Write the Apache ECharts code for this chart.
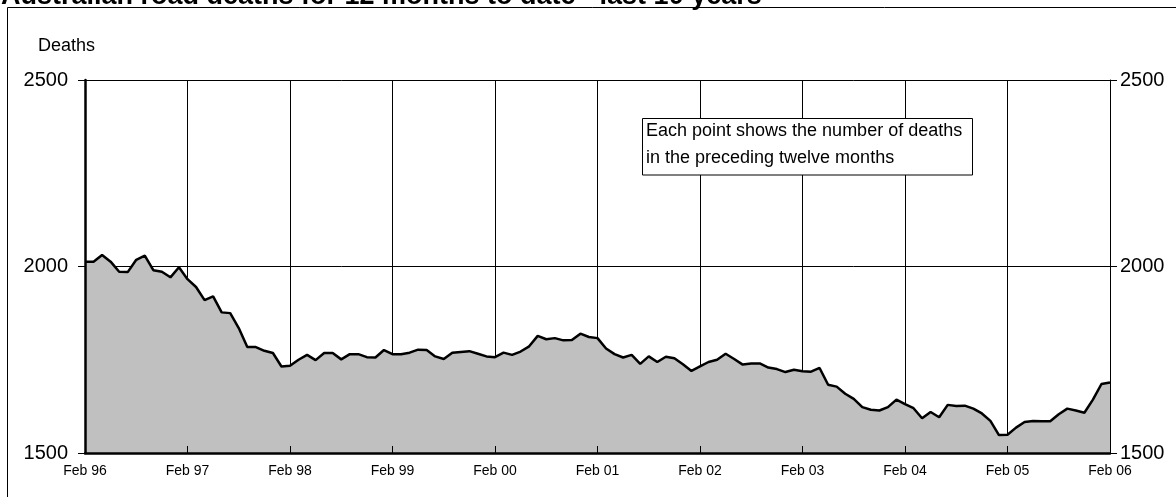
<!DOCTYPE html>
<html>
<head>
<meta charset="utf-8">
<script src="https://cdn.jsdelivr.net/npm/echarts@6/dist/echarts.min.js"></script>
<style>
html,body{margin:0;padding:0;background:#fff;}
#chart{width:1176px;height:497px;}
</style>
</head>
<body>
<div id="chart"></div>
<script>
const monthNames = ['Jan','Feb','Mar','Apr','May','Jun','Jul','Aug','Sep','Oct','Nov','Dec'];
const startYear = 1996;
const startMonth = 1; // Feb
const yTicks = [1500, 2000, 2500];
const deaths = [
  2013, 2013, 2031, 2013, 1986, 1985, 2018, 2029, 1990, 1986, 1971, 1998,
  1966, 1945, 1910, 1920, 1877, 1875, 1835, 1784, 1784, 1774, 1768, 1732,
  1734, 1750, 1763, 1749, 1768, 1768, 1751, 1765, 1765, 1757, 1756, 1776,
  1765, 1765, 1769, 1777, 1776, 1759, 1752, 1769, 1771, 1773, 1766, 1759,
  1757, 1769, 1763, 1772, 1786, 1814, 1805, 1808, 1802, 1803, 1820, 1811,
  1808, 1780, 1765, 1756, 1763, 1739, 1759, 1744, 1758, 1754, 1738, 1720,
  1732, 1744, 1750, 1766, 1752, 1737, 1740, 1740, 1729, 1725, 1717, 1723,
  1719, 1718, 1728, 1683, 1678, 1659, 1645, 1623, 1616, 1614, 1623, 1643,
  1631, 1620, 1593, 1610, 1596, 1629, 1626, 1627, 1619, 1606, 1586, 1548,
  1549, 1568, 1583, 1586, 1585, 1585, 1604, 1619, 1614, 1608, 1643, 1685,
  1689
];
const categories = deaths.map((v, i) => {
  const m = (startMonth + i) % 12;
  const y = startYear + Math.floor((startMonth + i) / 12);
  return monthNames[m] + ' ' + String(y % 100).padStart(2, '0');
});
const titleText = 'Australian road deaths for 12 months to date - last 10 years';
const yAxisName = 'Deaths';
const noteLines = ['Each point shows the number of deaths', 'in the preceding twelve months'];

const FONT = '"Liberation Sans", Arial, sans-serif';
const chart = echarts.init(document.getElementById('chart'));
const gridRect = {left: 85, right: 66, top: 80, bottom: 44};
const yMin = yTicks[0], yMax = yTicks[yTicks.length - 1], yInt = yTicks[1] - yTicks[0];
const plainNum = v => String(v);

chart.setOption({
  animation: false,
  backgroundColor: '#fff',
  grid: [
    Object.assign({}, gridRect),
    Object.assign({}, gridRect)
  ],
  xAxis: [
    {
      gridIndex: 0, type: 'category', data: categories, boundaryGap: false, z: 0,
      axisLine: {show: false}, axisTick: {show: false}, axisLabel: {show: false},
      splitLine: {show: true, interval: 11, lineStyle: {color: '#000', width: 1}}
    },
    {
      gridIndex: 1, type: 'category', data: categories, boundaryGap: false, z: 10,
      axisLine: {show: true, lineStyle: {color: '#000', width: 2.5}},
      axisTick: {show: true, interval: 11, inside: true, length: 7, lineStyle: {color: '#000', width: 1}},
      axisLabel: {show: true, interval: 11, color: '#000', fontSize: 14, fontFamily: FONT, margin: 11},
      splitLine: {show: false}
    }
  ],
  yAxis: [
    {
      gridIndex: 0, type: 'value', min: yMin, max: yMax, interval: yInt, z: 0,
      axisLine: {show: false}, axisTick: {show: false}, axisLabel: {show: false},
      splitLine: {show: true, lineStyle: {color: '#000', width: 1}}
    },
    {
      gridIndex: 1, type: 'value', position: 'left', min: yMin, max: yMax, interval: yInt, z: 10,
      axisLine: {show: true, lineStyle: {color: '#000', width: 2.5}},
      axisTick: {show: true, length: 7, lineStyle: {color: '#000', width: 1}},
      axisLabel: {color: '#000', fontSize: 20, fontFamily: FONT, margin: 17, formatter: plainNum},
      splitLine: {show: false}
    },
    {
      gridIndex: 1, type: 'value', position: 'right', min: yMin, max: yMax, interval: yInt, z: 10,
      axisLine: {show: true, lineStyle: {color: '#000', width: 1}},
      axisTick: {show: true, length: 7, lineStyle: {color: '#000', width: 1}},
      axisLabel: {color: '#000', fontSize: 20, fontFamily: FONT, margin: 10, formatter: plainNum},
      splitLine: {show: false}
    }
  ],
  series: [{
    type: 'line', xAxisIndex: 0, yAxisIndex: 0, data: deaths, z: 3,
    symbol: 'none', smooth: false,
    lineStyle: {color: '#000', width: 2.5},
    areaStyle: {color: '#c0c0c0', opacity: 1, origin: 'start'}
  }],
  graphic: [
    {
      type: 'rect', z: 0, silent: true,
      shape: {x: 7.5, y: 7.5, width: 1200, height: 600},
      style: {fill: 'none', stroke: '#000', lineWidth: 1}
    },
    {
      type: 'text', z: 20, left: 1, top: -17,
      style: {text: titleText, font: 'bold 27px ' + FONT, fill: '#000'}
    },
    {
      type: 'text', z: 20, left: 38, top: 37,
      style: {text: yAxisName, font: '18px ' + FONT, fill: '#000'}
    },
    {
      type: 'rect', z: 20,
      shape: {x: 642.5, y: 118.5, width: 330, height: 56.5},
      style: {fill: '#fff', stroke: '#000', lineWidth: 1}
    },
    {
      type: 'text', z: 21, left: 646, top: 122,
      style: {text: noteLines[0], font: '18px ' + FONT, fill: '#000'}
    },
    {
      type: 'text', z: 21, left: 646, top: 149,
      style: {text: noteLines[1], font: '18px ' + FONT, fill: '#000'}
    }
  ]
});
</script>
</body>
</html>
